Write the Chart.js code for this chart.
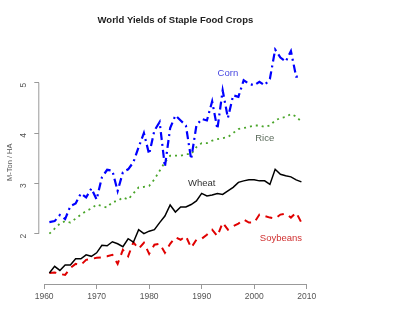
<!DOCTYPE html>
<html>
<head>
<meta charset="utf-8">
<script src="https://cdn.jsdelivr.net/npm/chart.js@4"></script>
<style>
  html, body { margin: 0; padding: 0; background: #fff; }
  #wrap { width: 400px; height: 332px; }
</style>
</head>
<body>
<div id="wrap"><canvas id="chart" width="400" height="332"></canvas></div>
<script>
// data
const years = [];
for (let y = 1961; y <= 2009; y++) years.push(y);

const corn = [2.23,2.25,2.37,2.29,2.55,2.60,2.80,2.72,2.90,2.68,
  3.12,3.27,3.25,2.85,3.22,3.28,3.42,3.72,4.00,3.58,
  4.05,4.22,3.33,4.10,4.35,4.25,4.15,3.48,4.15,4.28,
  4.25,4.63,4.08,4.85,4.30,4.75,4.72,5.05,4.98,4.95,
  5.02,4.95,5.08,5.66,5.50,5.42,5.63,5.12,5.12];

const rice = [2.00,2.10,2.20,2.25,2.22,2.30,2.38,2.45,2.50,2.58,
  2.55,2.52,2.63,2.65,2.72,2.68,2.80,2.92,2.93,2.95,
  3.08,3.25,3.42,3.55,3.55,3.55,3.58,3.58,3.72,3.80,
  3.80,3.85,3.88,3.90,3.92,4.00,4.08,4.10,4.12,4.15,
  4.15,4.12,4.15,4.25,4.30,4.32,4.38,4.33,4.22];

const wheat = [1.22,1.35,1.27,1.38,1.38,1.50,1.50,1.58,1.55,1.62,
  1.77,1.76,1.84,1.80,1.74,1.90,1.83,2.08,2.00,2.05,
  2.08,2.22,2.35,2.57,2.43,2.53,2.53,2.58,2.65,2.80,
  2.75,2.77,2.80,2.78,2.85,2.92,3.02,3.05,3.07,3.07,
  3.05,3.05,2.98,3.28,3.18,3.15,3.13,3.07,3.03];

const soybeans = [1.22,1.23,1.20,1.18,1.32,1.40,1.38,1.48,1.50,1.52,
  1.53,1.55,1.58,1.40,1.68,1.55,1.83,1.70,1.82,1.60,
  1.78,1.80,1.62,1.80,1.93,1.88,1.95,1.72,1.88,1.90,
  1.98,2.08,1.95,2.22,2.08,2.15,2.20,2.28,2.22,2.22,
  2.38,2.35,2.32,2.30,2.38,2.40,2.32,2.42,2.22];

const xTicks = [1960, 1970, 1980, 1990, 2000, 2010];
const yTicks = [2, 3, 4, 5];

// series labels written inside the plot, anchored in data units
const seriesLabels = [
  {text: 'Corn', x: 1995.0, y: 5.19, color: '#4848e0'},
  {text: 'Rice', x: 2002.0, y: 3.90, color: '#5a6a5a'},
  {text: 'Wheat', x: 1990.0, y: 3.00, color: '#333333'},
  {text: 'Soybeans', x: 2005.1, y: 1.90, color: '#d03030'}
];

function pts(vals){
  return vals.map((v, i) => ({x: years[i], y: v}));
}

// R style axes: line only from first to last tick
const rAxes = {
  id: 'rAxes',
  afterDraw(c){
    const ctx = c.ctx;
    const xs = c.scales.x, ys = c.scales.y;
    ctx.save();
    ctx.strokeStyle = '#999';
    ctx.lineWidth = 1;
    ctx.beginPath();
    ctx.moveTo(xs.getPixelForValue(xTicks[0]), xs.top + 0.5);
    ctx.lineTo(xs.getPixelForValue(xTicks[xTicks.length-1]), xs.top + 0.5);
    ctx.moveTo(ys.right - 0.5, ys.getPixelForValue(yTicks[0]));
    ctx.lineTo(ys.right - 0.5, ys.getPixelForValue(yTicks[yTicks.length-1]));
    ctx.stroke();

    ctx.font = '9.5px "Liberation Sans", Arial, sans-serif';
    ctx.textAlign = 'center';
    ctx.textBaseline = 'middle';
    seriesLabels.forEach(l => {
      ctx.fillStyle = l.color;
      ctx.fillText(l.text, xs.getPixelForValue(l.x), ys.getPixelForValue(l.y));
    });
    ctx.restore();
  }
};

const ctx = document.getElementById('chart');
new Chart(ctx, {
  type: 'line',
  data: {
    datasets: [
      {label: 'Corn', data: pts(corn), borderColor: '#0000ff', borderWidth: 2.2, borderDash: [8,4,2,4]},
      {label: 'Rice', data: pts(rice), borderColor: '#4aa52a', borderWidth: 1.8, borderDash: [2,4]},
      {label: 'Wheat', data: pts(wheat), borderColor: '#000000', borderWidth: 1.5},
      {label: 'Soybeans', data: pts(soybeans), borderColor: '#e00000', borderWidth: 2, borderDash: [7,6]}
    ]
  },
  options: {
    responsive: false,
    animation: false,
    layout: { padding: {left: 0, right: 88.5, top: 0, bottom: 0} },
    elements: {
      point: { radius: 0 },
      line: { tension: 0, fill: false, borderCapStyle: 'butt' }
    },
    plugins: {
      legend: { display: false },
      tooltip: { enabled: false },
      title: {
        display: true,
        text: 'World Yields of Staple Food Crops',
        fullSize: false,
        color: '#222',
        font: { family: '"Liberation Sans", Arial, sans-serif', size: 9.5, weight: 'bold' },
        padding: { top: 14.3, bottom: 14.8 }
      }
    },
    scales: {
      x: {
        type: 'linear',
        min: 1959.08,
        max: 2010.92,
        afterBuildTicks: s => { s.ticks = xTicks.map(v => ({value: v})); },
        afterFit: s => { s.height = 48; },
        border: { display: false },
        grid: { display: true, drawOnChartArea: false, drawTicks: true, tickLength: 5, color: '#999' },
        ticks: {
          color: '#555',
          padding: 3,
          maxRotation: 0,
          font: { family: '"Liberation Sans", Arial, sans-serif', size: 8.5 },
          callback: v => String(v)
        }
      },
      y: {
        min: 1.0,
        max: 5.84,
        afterBuildTicks: s => { s.ticks = yTicks.map(v => ({value: v})); },
        afterFit: s => { s.width = 39.3; },
        border: { display: false },
        grid: { display: true, drawOnChartArea: false, drawTicks: true, tickLength: 5, color: '#999' },
        ticks: {
          color: '#555',
          padding: 11,
          minRotation: 90,
          maxRotation: 90,
          font: { family: '"Liberation Sans", Arial, sans-serif', size: 8.5 },
          callback: v => String(v)
        },
        title: {
          display: true,
          text: 'M-Ton / HA',
          color: '#555',
          padding: { top: 5, bottom: 0 },
          font: { family: '"Liberation Sans", Arial, sans-serif', size: 7.5 }
        }
      }
    }
  },
  plugins: [rAxes]
});
</script>
</body>
</html>
